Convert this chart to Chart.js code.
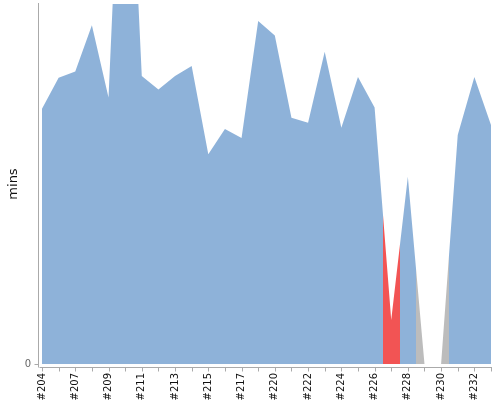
<!DOCTYPE html>
<html>
<head>
<meta charset="utf-8">
<script src="https://cdn.jsdelivr.net/npm/chart.js@4"></script>
<style>
  html, body { margin: 0; padding: 0; background: #fff; overflow: hidden; }
  #wrap { position: relative; width: 500px; height: 400px; }
</style>
</head>
<body>
<div id="wrap"><canvas id="c"></canvas></div>
<script>
// Builds (categories)
const builds = ['#204','#205','#207','#208','#209','#210','#211','#212','#213','#214',
                '#215','#216','#217','#218','#220','#221','#222','#223','#224','#225',
                '#226','#227','#228','#229','#230','#231','#232','#233'];
// Build durations in minutes
const durations = [0.567,0.636,0.650,0.753,0.592,1.429,0.640,0.610,0.640,0.662,
                   0.466,0.522,0.502,0.762,0.730,0.547,0.536,0.694,0.525,0.638,
                   0.570,0.098,0.416,0.000,0.000,0.509,0.638,0.531];
// Build results
const results = ['S','S','S','S','S','S','S','S','S','S',
                 'S','S','S','S','S','S','S','S','S','S',
                 'S','F','S','A','A','S','S','S'];
const yTicks = [0];
const yTitle = 'mins';

const resultColors = { S: '#8EB2D9', F: '#F25454', A: '#BCBCBC' };
const axisColor = '#AAAAAA';

function areaFill(ctx) {
  const chart = ctx.chart;
  const area = chart.chartArea;
  const xs = chart.scales.x;
  if (!area || !xs) return resultColors.S;
  const L = area.left, R = area.right, W = R - L;
  const g = chart.ctx.createLinearGradient(L, 0, R, 0);
  const n = builds.length;
  for (let i = 0; i < n; i++) {
    const c = xs.getPixelForValue(i);
    const prev = i > 0 ? xs.getPixelForValue(i - 1) : c;
    const next = i < n - 1 ? xs.getPixelForValue(i + 1) : c;
    let a = (c + prev) / 2, b = (c + next) / 2;
    a = Math.max(L, Math.min(R, a));
    b = Math.max(L, Math.min(R, b));
    const col = resultColors[results[i]];
    g.addColorStop((a - L) / W, col);
    g.addColorStop((b - L) / W, col);
  }
  return g;
}

const axesPlugin = {
  id: 'jfAxes',
  afterDraw(chart) {
    const { ctx, chartArea: a, scales } = chart;
    ctx.save();
    ctx.strokeStyle = axisColor;
    ctx.lineWidth = 1;
    const ax = a.left - 3.5;
    const ay = a.bottom + 3.5;
    ctx.beginPath();
    // y axis line
    ctx.moveTo(ax, a.top - 1);
    ctx.lineTo(ax, ay);
    // x axis line
    ctx.moveTo(ax + 1, ay);
    ctx.lineTo(a.right + 1, ay);
    // x ticks
    for (let i = 0; i < builds.length; i++) {
      const px = Math.round(scales.x.getPixelForValue(i)) + 0.5;
      ctx.moveTo(px, ay);
      ctx.lineTo(px, ay + 4);
    }
    // y ticks
    yTicks.forEach(v => {
      const py = Math.round(scales.y.getPixelForValue(v)) + 0.5;
      ctx.moveTo(ax - 4, py);
      ctx.lineTo(ax, py);
    });
    ctx.stroke();
    ctx.restore();
  }
};

function noPad(s) {
  s.paddingTop = 0; s.paddingBottom = 0; s.paddingLeft = 0; s.paddingRight = 0;
}

new Chart(document.getElementById('c'), {
  type: 'line',
  data: {
    labels: builds,
    datasets: [{
      data: durations,
      fill: 'origin',
      backgroundColor: areaFill,
      borderWidth: 0,
      borderColor: 'rgba(0,0,0,0)',
      pointRadius: 0,
      tension: 0
    }]
  },
  options: {
    responsive: true,
    maintainAspectRatio: false,
    animation: false,
    layout: { padding: { top: 4, right: 9, left: 0, bottom: 0 } },
    plugins: { legend: { display: false }, tooltip: { enabled: false } },
    scales: {
      x: {
        type: 'category',
        offset: false,
        grid: { display: false, drawTicks: false },
        border: { display: false },
        ticks: {
          autoSkip: false,
          maxRotation: 90,
          minRotation: 90,
          padding: 9,
          color: '#111',
          font: { family: 'DejaVu Sans', size: 10 },
          callback: function(v, i) { return i % 2 === 0 ? builds[i] : ''; }
        },
        afterFit(s) { s.height = 36; noPad(s); }
      },
      y: {
        min: 0,
        max: 0.8,
        grid: { display: false, drawTicks: false },
        border: { display: false },
        afterBuildTicks(s) { s.ticks = yTicks.map(v => ({ value: v })); },
        ticks: {
          padding: 11,
          color: '#666',
          font: { family: 'DejaVu Sans', size: 10 },
          callback: v => String(v)
        },
        title: {
          display: true,
          text: yTitle,
          color: '#111',
          font: { family: 'DejaVu Sans', size: 13 },
          padding: { top: 6, bottom: 0 }
        },
        afterFit(s) { s.width = 42; noPad(s); }
      }
    }
  },
  plugins: [axesPlugin]
});
</script>
</body>
</html>
